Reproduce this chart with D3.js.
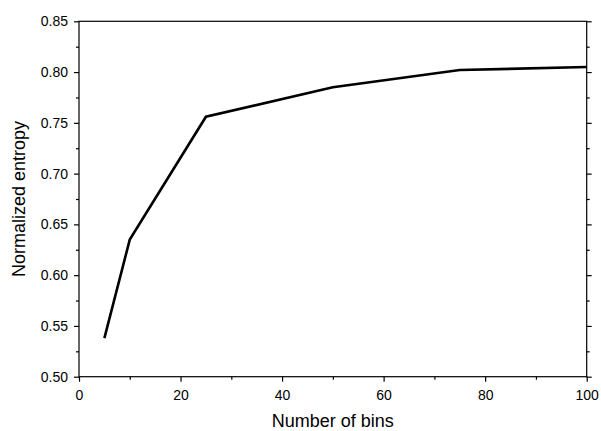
<!DOCTYPE html>
<html>
<head>
<meta charset="utf-8">
<script src="https://cdn.jsdelivr.net/npm/d3@7"></script>
<style>
  html, body { margin: 0; padding: 0; background: #fff; }
  svg { display: block; font-family: "Liberation Sans", Arial, sans-serif; }
</style>
</head>
<body>
<svg id="chart" width="601" height="431"></svg>
<script>
// Normalized entropy versus number of histogram bins
const bins = [5, 10, 25, 50, 75, 100];
const entropy = [0.538, 0.635, 0.756, 0.785, 0.802, 0.805];

const xMajorTicks = [0, 20, 40, 60, 80, 100];
const xMinorTicks = [10, 30, 50, 70, 90];
const yMajorTicks = [0.50, 0.55, 0.60, 0.65, 0.70, 0.75, 0.80, 0.85];
const yMinorTicks = [0.525, 0.575, 0.625, 0.675, 0.725, 0.775, 0.825];

const xLabel = "Number of bins";
const yLabel = "Normalized entropy";

const svg = d3.select("#chart");
const m = { left: 79, right: 14.3, top: 21.3, bottom: 54.3 };
const W = 601, H = 431;

const x = d3.scaleLinear().domain([0, 100]).range([m.left, W - m.right]);
const y = d3.scaleLinear().domain([0.50, 0.85]).range([H - m.bottom, m.top]);

const fmt = d3.format(".2f");

// frame
svg.append("rect")
  .attr("x", x(0)).attr("y", y(0.85))
  .attr("width", x(100) - x(0)).attr("height", y(0.50) - y(0.85))
  .attr("fill", "none").attr("stroke", "#000").attr("stroke-width", 1.2);

function styleAxis(g) {
  g.select(".domain").remove();
  g.selectAll("line").attr("stroke", "#000").attr("stroke-width", 1.2);
  g.selectAll("text").attr("fill", "#000").style("font-size", "14px");
}

// bottom axis
svg.append("g").attr("transform", `translate(0,${y(0.50)})`)
  .call(d3.axisBottom(x).tickValues(xMajorTicks).tickSize(5).tickPadding(8).tickFormat(d3.format("d")))
  .call(styleAxis);
svg.append("g").attr("transform", `translate(0,${y(0.50)})`)
  .call(d3.axisBottom(x).tickValues(xMinorTicks).tickSize(3).tickFormat(""))
  .call(styleAxis);

// left axis
svg.append("g").attr("transform", `translate(${x(0)},0)`)
  .call(d3.axisLeft(y).tickValues(yMajorTicks).tickSize(5).tickPadding(6).tickFormat(fmt))
  .call(styleAxis);
svg.append("g").attr("transform", `translate(${x(0)},0)`)
  .call(d3.axisLeft(y).tickValues(yMinorTicks).tickSize(3).tickFormat(""))
  .call(styleAxis);

// right axis (ticks only)
svg.append("g").attr("transform", `translate(${x(100)},0)`)
  .call(d3.axisRight(y).tickValues(yMajorTicks).tickSize(5).tickFormat(""))
  .call(styleAxis);
svg.append("g").attr("transform", `translate(${x(100)},0)`)
  .call(d3.axisRight(y).tickValues(yMinorTicks).tickSize(3).tickFormat(""))
  .call(styleAxis);

// data line
const data = bins.map((b, i) => ({ b, e: entropy[i] }));
svg.append("path")
  .datum(data)
  .attr("fill", "none")
  .attr("stroke", "#000")
  .attr("stroke-width", 2.6)
  .attr("stroke-linejoin", "miter")
  .attr("d", d3.line().x(d => x(d.b)).y(d => y(d.e)));

// axis titles
svg.append("text")
  .attr("x", (x(0) + x(100)) / 2).attr("y", 427)
  .attr("text-anchor", "middle")
  .style("font-size", "18px")
  .text(xLabel);

svg.append("text")
  .attr("transform", `translate(24.5,${(y(0.5) + y(0.85)) / 2}) rotate(-90)`)
  .attr("text-anchor", "middle")
  .style("font-size", "18px")
  .text(yLabel);
</script>
</body>
</html>
